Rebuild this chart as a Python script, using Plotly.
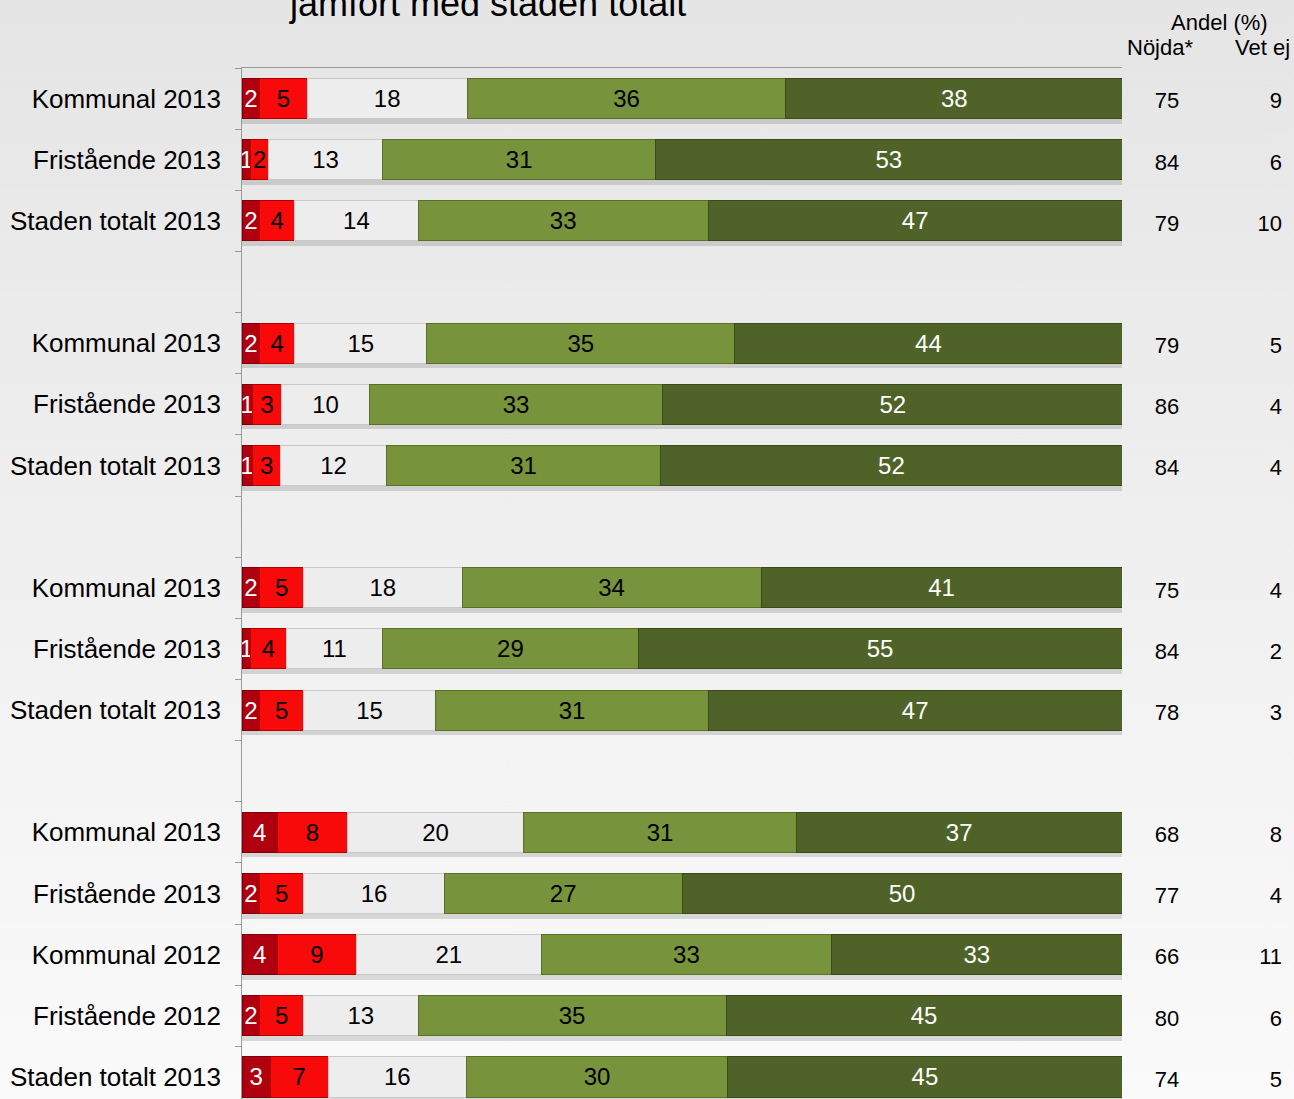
import base64
import plotly.graph_objects as go

# rows top to bottom, None = empty spacer slot
labels = ["Kommunal 2013", "Fristående 2013", "Staden totalt 2013", None,
          "Kommunal 2013", "Fristående 2013", "Staden totalt 2013", None,
          "Kommunal 2013", "Fristående 2013", "Staden totalt 2013", None,
          "Kommunal 2013", "Fristående 2013", "Kommunal 2012", "Fristående 2012",
          "Staden totalt 2013"]

# segment lengths (%), left to right
seg1 = [2.0, 1, 2, None, 2, 1.2, 1.2, None, 2, 1, 2, None, 4, 2, 4, 2, 3.2]
seg2 = [5.4, 2, 4, None, 4, 3.3, 3.2, None, 5, 4, 5, None, 8, 5, 9, 5, 6.6]
seg3 = [18.2, 13, 14, None, 15, 10, 12, None, 18, 11, 15, None, 20, 16, 21, 13, 15.7]
seg4 = [36.2, 31, 33, None, 35, 33.3, 31.2, None, 34, 29, 31, None, 31, 27, 33, 35, 29.7]
seg5 = [38.3, 53, 47, None, 44, 52.3, 52.4, None, 41, 55, 47, None, 37, 50, 33, 45, 44.8]

nojda = [75, 84, 79, None, 79, 86, 84, None, 75, 84, 78, None, 68, 77, 66, 80, 74]
vet_ej = [9, 6, 10, None, 5, 4, 4, None, 4, 2, 3, None, 8, 4, 11, 6, 5]

FONT = "Liberation Sans, Arial, sans-serif"
LINE_GREY = "#9a9a9a"

segments = [
    (seg1, "#B0000F", "#7a0008", "white"),
    (seg2, "#F80A0A", "#b00000", "black"),
    (seg3, "#EDEDED", "#c8c8c8", "black"),
    (seg4, "#77933C", "#5a7028", "black"),
    (seg5, "#4F6228", "#3a4a1c", "white"),
]

rows = [i for i, lab in enumerate(labels) if lab is not None]
totals = [sum(s[i] for s, *_ in segments) for i in rows]

fig = go.Figure()

# drop shadow under every bar (base axis, range nudged so it sits a few px lower)
fig.add_trace(go.Bar(
    y=rows, x=totals, orientation="h", yaxis="y",
    marker=dict(color="rgba(0,0,0,0.13)", line=dict(width=0)),
    showlegend=False, hoverinfo="skip",
))

for vals, color, edge, txtcolor in segments:
    xs = [vals[i] for i in rows]
    fig.add_trace(go.Bar(
        y=rows, x=xs, orientation="h", yaxis="y2",
        marker=dict(color=color, line=dict(color=edge, width=1)),
        text=[str(round(v)) for v in xs],
        textposition="inside", insidetextanchor="middle",
        constraintext="none", textangle=0,
        textfont=dict(family=FONT, size=24, color=txtcolor),
        showlegend=False, hoverinfo="skip",
    ))

# tick marks on category boundaries
fig.add_trace(go.Scatter(x=[None], y=[None], yaxis="y3", showlegend=False, hoverinfo="skip"))

# right hand columns
fig.add_trace(go.Scatter(
    x=[45] * len(rows), y=[r + 0.07 for r in rows], xaxis="x3", yaxis="y2", mode="text",
    text=[str(nojda[i]) for i in rows], textposition="middle center",
    textfont=dict(family=FONT, size=22, color="black"),
    showlegend=False, hoverinfo="skip", cliponaxis=False,
))
fig.add_trace(go.Scatter(
    x=[160] * len(rows), y=[r + 0.07 for r in rows], xaxis="x3", yaxis="y2", mode="text",
    text=[str(vet_ej[i]) for i in rows], textposition="middle left",
    textfont=dict(family=FONT, size=22, color="black"),
    showlegend=False, hoverinfo="skip", cliponaxis=False,
))

W, H = 1294, 1099
L, T = 242, 68
plot_w = W - L
plot_h = H - T
bar_dom = 880 / plot_w
yrange = [16.36, -0.5]
shadow_shift = 5 / 61.15
shadow_range = [yrange[0] - shadow_shift, yrange[1] - shadow_shift]

# background gradient
svg = ("<svg xmlns='http://www.w3.org/2000/svg' width='10' height='100' viewBox='0 0 10 100' "
       "preserveAspectRatio='none'><defs><linearGradient id='g' x1='0' y1='0' x2='0' y2='1'>"
       "<stop offset='0' stop-color='#e5e5e5'/><stop offset='1' stop-color='#fafafa'/>"
       "</linearGradient></defs><rect width='10' height='100' fill='url(#g)'/></svg>")
bg_src = "data:image/svg+xml;base64," + base64.b64encode(svg.encode()).decode()


def px_x(px):
    return (px - L) / plot_w


def px_y(px):
    return 1 + (T - px) / plot_h


fig.update_layout(
    width=W, height=H,
    margin=dict(l=L, r=0, t=T, b=0),
    barmode="stack", bargap=0.345,
    paper_bgcolor="#eeeeee", plot_bgcolor="rgba(0,0,0,0)",
    font=dict(family=FONT, color="black"),
    xaxis=dict(domain=[0, bar_dom], range=[0, 100], side="top", showline=True,
               linecolor=LINE_GREY, linewidth=1, showgrid=False, zeroline=False,
               showticklabels=False, ticks=""),
    xaxis3=dict(domain=[bar_dom, 1], range=[0, W - L - 880], anchor="y2", visible=False),
    yaxis=dict(range=shadow_range, visible=False, showgrid=False, zeroline=False),
    yaxis2=dict(range=yrange, overlaying="y", anchor="x", side="left",
                tickvals=rows, ticktext=[labels[i] for i in rows],
                ticks="", showgrid=False, zeroline=False, showline=False,
                ticklabelstandoff=20, tickfont=dict(family=FONT, size=26, color="black")),
    yaxis3=dict(range=yrange, overlaying="y", anchor="x", side="left",
                tickvals=[k - 0.5 for k in range(17)], ticks="outside", ticklen=6,
                tickcolor=LINE_GREY, showticklabels=False, showgrid=False, zeroline=False,
                showline=True, linecolor=LINE_GREY, linewidth=1),
    images=[dict(source=bg_src, xref="paper", yref="paper", x=px_x(0), y=px_y(0),
                 sizex=W / plot_w, sizey=H / plot_h, xanchor="left", yanchor="top",
                 sizing="stretch", layer="below")],
    annotations=[
        dict(text="jämfört med staden totalt", xref="paper", yref="paper",
             x=px_x(487), y=px_y(26), xanchor="center", yanchor="bottom",
             showarrow=False, font=dict(family=FONT, size=36, color="black")),
        dict(text="Andel (%)", xref="paper", yref="paper", x=px_x(1219), y=px_y(22),
             xanchor="center", yanchor="middle", showarrow=False, font=dict(size=22)),
        dict(text="Nöjda*", xref="paper", yref="paper", x=px_x(1160), y=px_y(48),
             xanchor="center", yanchor="middle", showarrow=False, font=dict(size=22)),
        dict(text="Vet ej", xref="paper", yref="paper", x=px_x(1262), y=px_y(48),
             xanchor="center", yanchor="middle", showarrow=False, font=dict(size=22)),
    ],
)

fig.write_html("out.html", config={"displayModeBar": False},
               post_script="document.body.style.margin='0';")
